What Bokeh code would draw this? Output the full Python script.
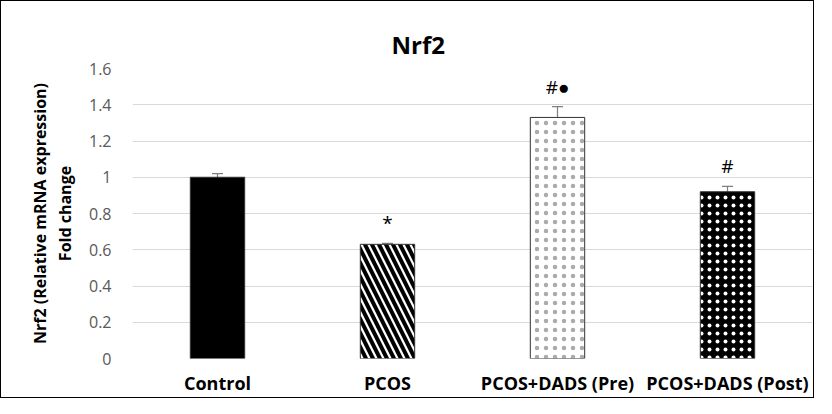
from bokeh.plotting import figure
from bokeh.models import ColumnDataSource, Range1d, FactorRange, Whisker, TeeHead, Title
from bokeh.embed import file_html
from bokeh.resources import INLINE
from bokeh.core.properties import value

categories = ["Control", "PCOS", "PCOS+DADS (Pre)", "PCOS+DADS (Post)"]
fold_change = [1.00, 0.63, 1.33, 0.92]
error = [0.02, 0.005, 0.06, 0.03]
marks = ["", "*", "#\u25CF", "#"]
y_ticks = [0, 0.2, 0.4, 0.6, 0.8, 1.0, 1.2, 1.4, 1.6]
y_tick_labels = ["0", "0.2", "0.4", "0.6", "0.8", "1", "1.2", "1.4", "1.6"]

fills = ["black", "white", "white", "black"]
hatches = [" ", "\\", ".", "."]
hatch_colors = ["black", "black", "#ababab", "white"]
hatch_scales = [8, 14, 9, 8]
hatch_weights = [1, 4, 0.6, 0.6]

src = ColumnDataSource(dict(
    cat=categories, val=fold_change,
    upper=[v + e for v, e in zip(fold_change, error)],
    lower=[v - e for v, e in zip(fold_change, error)],
    mark=marks, fill=fills, hatch=hatches, hcol=hatch_colors,
    hscale=hatch_scales, hweight=hatch_weights,
))

p = figure(x_range=FactorRange(*categories, range_padding=0), y_range=Range1d(0, 1.6),
           width=814, height=398, output_backend="svg", toolbar_location=None,
           min_border_left=131, min_border_right=3, min_border_top=67, min_border_bottom=41)
p.styles = {"border": "1.5px solid black", "box-sizing": "border-box"}

p.title = Title(text="Nrf2", align="left", offset=259, text_font="Open Sans",
                text_font_size="24px", text_font_style="bold", text_color="black",
                text_line_height=1.0)
p.title.standoff = 16

p.vbar(x="cat", top="val", width=0.32, source=src, fill_color="fill",
       line_color="#333333", line_width=1,
       hatch_pattern="hatch", hatch_color="hcol", hatch_scale="hscale", hatch_weight="hweight")

w = Whisker(base="cat", upper="upper", lower="lower", source=src, line_color="#7f7f7f", line_width=1.2,
            upper_head=TeeHead(size=11, line_color="#7f7f7f", line_width=1.2),
            lower_head=TeeHead(size=11, line_color="#7f7f7f", line_width=1.2))
p.add_layout(w)

p.text(x="cat", y="upper", text="mark", source=src, text_align="center", text_baseline="bottom",
       y_offset=-7, text_font=value("Open Sans"), text_font_size="19px", text_color="black")

p.outline_line_color = None
p.xgrid.grid_line_color = None
p.ygrid.grid_line_color = "#d9d9d9"
p.ygrid.grid_line_width = 1.2
p.yaxis.ticker = y_ticks
p.yaxis.major_label_overrides = {t: l for t, l in zip(y_ticks, y_tick_labels)}
for ax in (p.xaxis[0], p.yaxis[0]):
    ax.axis_line_color = None
    ax.major_tick_line_color = None
    ax.minor_tick_line_color = None
    ax.major_tick_out = 0
    ax.major_tick_in = 0

p.yaxis.major_label_text_font = "Open Sans"
p.yaxis.major_label_text_font_size = "16px"
p.yaxis.major_label_text_color = "#595959"
p.yaxis.major_label_standoff = 21
p.yaxis.axis_label = "Nrf2 (Relative mRNA expression)\nFold change"
p.yaxis.axis_label_text_font = "Open Sans"
p.yaxis.axis_label_text_font_size = "16px"
p.yaxis.axis_label_text_font_style = "bold"
p.yaxis.axis_label_text_color = "black"
p.yaxis.axis_label_text_line_height = 1.15
p.yaxis.axis_label_standoff = 10

p.xaxis.major_label_text_font = "Open Sans"
p.xaxis.major_label_text_font_size = "18px"
p.xaxis.major_label_text_font_style = "bold"
p.xaxis.major_label_text_color = "black"
p.xaxis.major_label_standoff = 12

open("out.html", "w").write(file_html(p, INLINE))
